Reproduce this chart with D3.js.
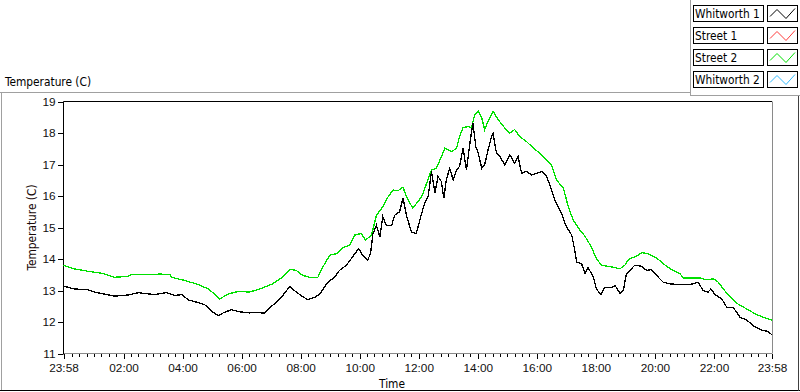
<!DOCTYPE html>
<html>
<head>
<meta charset="utf-8">
<script src="https://cdn.jsdelivr.net/npm/d3@7"></script>
<style>
  body { margin: 0; background: #fff; }
  svg { display: block; font-family: "DejaVu Sans Condensed", "DejaVu Sans", sans-serif; font-stretch: condensed; }
</style>
</head>
<body>
<div class="chart"></div>
<script>
// series names + colours as in the legend
const seriesNames = ["Whitworth 1", "Street 1", "Street 2", "Whitworth 2"]
const seriesColors = ["#000000", "#ff3b3b", "#00e000", "#33bbff"]

// minutes after 23:58 and temperatures
const w1Time = [0,22,50,63,104,132,152,185,209,226,240,254,266,287,304,315,327,342,355,378,395,409,419,433,446,460,473,486,496,511,521,537,551,561,575,588,600,608,618,624,629,636,643,649,656,667,673,683,690,697,707,717,728,734,741,748,755,761,768,773,778,785,792,799,805,812,819,826,832,838,843,850,856,863,870,873,880,887,897,907,917,924,931,941,951,961,972,982,992,999,1012,1022,1033,1039,1043,1053,1060,1066,1077,1083,1092,1100,1114,1121,1131,1138,1144,1151,1161,1175,1185,1195,1209,1219,1233,1253,1274,1290,1300,1310,1316,1324,1338,1348,1361,1375,1389,1402,1419,1432,1440]
const w1Temp = [13.14,13.05,13.02,12.95,12.82,12.86,12.93,12.87,12.93,12.84,12.87,12.70,12.65,12.55,12.31,12.20,12.31,12.39,12.33,12.29,12.30,12.28,12.45,12.63,12.85,13.13,12.95,12.81,12.71,12.79,12.89,13.26,13.42,13.64,13.80,14.08,14.33,14.12,13.96,14.17,14.81,15.07,14.70,15.34,15.07,15.07,15.39,15.50,15.93,15.39,14.86,14.81,15.45,15.77,15.98,16.78,16.09,16.62,16.46,15.93,16.51,16.88,16.51,16.83,16.94,17.52,16.83,17.68,18.32,17.57,17.36,16.88,16.99,17.47,17.89,18.00,17.36,17.25,16.99,17.31,17.04,17.25,16.72,16.78,16.67,16.72,16.78,16.62,16.19,15.87,15.45,15.02,14.76,14.28,13.90,13.85,13.53,13.74,13.42,13.05,12.87,13.10,13.09,13.16,12.91,13.00,13.53,13.64,13.80,13.77,13.64,13.66,13.42,13.26,13.21,13.19,13.19,13.26,13.00,12.95,13.05,12.87,12.73,12.47,12.47,12.15,12.06,11.88,11.74,11.70,11.59]

const s2Time = [0,20,50,77,104,132,138,199,216,220,246,274,294,307,317,335,355,378,399,425,445,460,473,486,500,517,527,541,555,567,582,592,605,614,626,636,649,660,670,680,690,697,710,728,738,748,758,768,775,789,799,805,812,822,829,836,843,850,856,863,873,883,897,907,917,927,941,955,968,982,992,1002,1016,1026,1036,1050,1060,1073,1083,1094,1117,1131,1141,1148,1168,1175,1188,1205,1219,1236,1253,1260,1294,1307,1321,1331,1341,1355,1371,1389,1409,1426,1440]
const s2Temp = [13.80,13.69,13.61,13.55,13.42,13.45,13.51,13.52,13.51,13.42,13.32,13.19,13.05,12.89,12.73,12.89,12.97,12.95,13.05,13.21,13.42,13.67,13.64,13.48,13.42,13.42,13.74,14.12,14.17,14.36,14.44,14.76,14.81,14.60,14.76,15.39,15.66,15.98,16.19,16.17,16.28,15.98,15.61,15.98,16.40,16.83,16.88,17.25,17.52,17.41,17.52,17.89,18.16,18.21,18.16,18.59,18.69,18.48,18.11,18.37,18.69,18.43,18.16,18.00,18.11,17.89,17.73,17.52,17.36,17.15,16.99,16.51,16.25,15.66,15.23,14.91,14.72,14.38,14.01,13.80,13.74,13.69,13.80,13.98,14.12,14.20,14.17,14.04,13.85,13.66,13.53,13.40,13.40,13.34,13.37,13.26,13.05,12.79,12.57,12.41,12.23,12.13,12.06]

const xTickLabels = ["23:58","02:00","04:00","06:00","08:00","10:00","12:00","14:00","16:00","18:00","20:00","22:00","23:58"]
const yTicks = [11,12,13,14,15,16,17,18,19]

const width = 800, height = 392
const plotL = 63.5, plotR = 772, plotT = 101.5, plotB = 353.5

let svg = d3.select("div.chart").append("svg")
    .attr("width", width)
    .attr("height", height)

let x = d3.scaleLinear().domain([0, 1440]).range([plotL, plotR])
let y = d3.scaleLinear().domain([11, 19]).range([plotB, plotT])

// outer panel frame
svg.append("line").attr("x1", 0).attr("x2", 690).attr("y1", 92.5).attr("y2", 92.5).attr("stroke", "#a0a0a0")
svg.append("line").attr("x1", 1.5).attr("x2", 1.5).attr("y1", 92).attr("y2", 391).attr("stroke", "#a0a0a0")
svg.append("line").attr("x1", 0).attr("x2", 800).attr("y1", 390.5).attr("y2", 390.5).attr("stroke", "#000")
svg.append("line").attr("x1", 798.5).attr("x2", 798.5).attr("y1", 96).attr("y2", 391).attr("stroke", "#404040")

// legend panel edges
svg.append("line").attr("x1", 690.5).attr("x2", 690.5).attr("y1", 0).attr("y2", 96).attr("stroke", "#a0a0a0")
svg.append("line").attr("x1", 690).attr("x2", 800).attr("y1", 95.5).attr("y2", 95.5).attr("stroke", "#a0a0a0")

svg.append("text").attr("x", 5).attr("y", 86).attr("font-size", 11.8).text("Temperature (C)")

// axes
const tickMin = lbl => {
  let [h, m] = lbl.split(":").map(Number)
  return (h * 60 + m - (23 * 60 + 58) + 1440) % 1440
}
let majorTicks = xTickLabels.map((l, i) => i == xTickLabels.length - 1 ? 1440 : tickMin(l))
let minorTicks = d3.range(2, 1440, 15)

let minorAxis = svg.append("g").attr("transform", `translate(0,${plotB})`)
    .call(d3.axisBottom(x).tickValues(minorTicks).tickSize(3).tickFormat(""))
let majorAxis = svg.append("g").attr("transform", `translate(0,${plotB})`)
    .call(d3.axisBottom(x).tickValues(majorTicks).tickSize(5).tickPadding(5)
      .tickFormat((d, i) => xTickLabels[i]))
let yAxis = svg.append("g").attr("transform", `translate(${plotL - 1},0)`)
    .call(d3.axisLeft(y).tickValues(yTicks).tickSize(5).tickPadding(2).tickFormat(d3.format("d")))

svg.selectAll(".domain").remove()
svg.selectAll(".tick line").attr("stroke", "#000").attr("shape-rendering", "crispEdges")
svg.selectAll(".tick text").attr("font-family", null).attr("font-size", 11.8).attr("fill", "#111")

// plot frame: black top/left, gray bottom/right
svg.append("line").attr("x1", plotL).attr("x2", plotR).attr("y1", plotB).attr("y2", plotB).attr("stroke", "#8a8a8a")
svg.append("line").attr("x1", plotR + 0.5).attr("x2", plotR + 0.5).attr("y1", plotT).attr("y2", plotB).attr("stroke", "#8a8a8a")
svg.append("line").attr("x1", plotL).attr("x2", plotR).attr("y1", plotT).attr("y2", plotT).attr("stroke", "#000")
svg.append("line").attr("x1", plotL).attr("x2", plotL).attr("y1", plotT).attr("y2", plotB + 1).attr("stroke", "#000")

// axis titles
svg.append("text").attr("x", 392).attr("y", 388).attr("text-anchor", "middle")
    .attr("font-size", 11.8).text("Time")
svg.append("text").attr("transform", `translate(36,${(plotT + plotB) / 2}) rotate(-90)`)
    .attr("text-anchor", "middle").attr("font-size", 11.8).attr("fill", "#1a0a0a").text("Temperature (C)")

// lines
let line = d3.line().x(d => x(d[0])).y(d => y(d[1]))
let plotted = [
  { t: s2Time, v: s2Temp, color: seriesColors[2] },
  { t: w1Time, v: w1Temp, color: seriesColors[0] }
]
svg.selectAll("path.series")
    .data(plotted)
    .enter()
    .append("path")
    .attr("class", "series")
    .attr("d", s => line(d3.zip(s.t, s.v)))
    .attr("fill", "none")
    .attr("stroke", s => s.color)
    .attr("stroke-width", 1.3)
    .attr("shape-rendering", "crispEdges")

// legend
let legend = svg.selectAll("g.legend")
    .data(seriesNames)
    .enter()
    .append("g")
    .attr("class", "legend")
    .attr("transform", (d, i) => `translate(0,${5.5 + i * 22})`)

legend.append("rect").attr("x", 693.5).attr("y", 0).attr("width", 70).attr("height", 16)
    .attr("fill", "#fff").attr("stroke", "#000")
legend.append("text").attr("x", 695).attr("y", 12.5).attr("font-size", 11.8).text(d => d)
legend.append("rect").attr("x", 767.5).attr("y", 0).attr("width", 30).attr("height", 16)
    .attr("fill", "#fff").attr("stroke", "#000")
legend.append("polyline")
    .attr("points", "770,11 777,4 786,13 795,3")
    .attr("fill", "none")
    .attr("stroke", (d, i) => seriesColors[i])
</script>
</body>
</html>
